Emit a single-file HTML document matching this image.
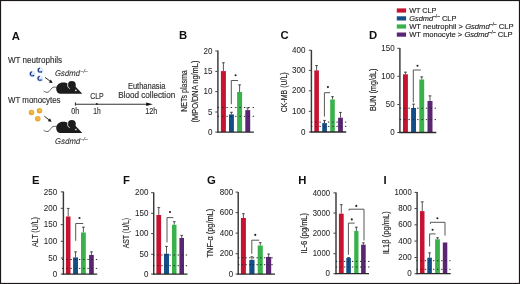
<!DOCTYPE html><html><head><meta charset="utf-8"><style>html,body{margin:0;padding:0;background:#fff}svg{display:block;will-change:transform}text{font-family:"Liberation Sans",sans-serif;stroke:#2a2a2a;stroke-width:0.15px}</style></head><body>
<svg width="520" height="284" viewBox="0 0 520 284">
<defs><radialGradient id="ng" cx="0.65" cy="0.35" r="0.7"><stop offset="0" stop-color="#f4faff"/><stop offset="1" stop-color="#9fcaef"/></radialGradient><radialGradient id="og" cx="0.55" cy="0.45" r="0.6"><stop offset="0" stop-color="#f3c25a"/><stop offset="1" stop-color="#e39a12"/></radialGradient></defs>
<rect x="0" y="0" width="520" height="284" fill="#fff"/>
<text x="11.8" y="39.6" font-size="11.3" text-anchor="start" fill="#111" font-weight="bold" style="stroke:none">A</text>
<text x="179.1" y="39.1" font-size="11.3" text-anchor="start" fill="#111" font-weight="bold" style="stroke:none">B</text>
<text x="280.4" y="39.3" font-size="11.3" text-anchor="start" fill="#111" font-weight="bold" style="stroke:none">C</text>
<text x="369.1" y="39.3" font-size="11.3" text-anchor="start" fill="#111" font-weight="bold" style="stroke:none">D</text>
<text x="32" y="183.9" font-size="11.3" text-anchor="start" fill="#111" font-weight="bold" style="stroke:none">E</text>
<text x="123.1" y="183.9" font-size="11.3" text-anchor="start" fill="#111" font-weight="bold" style="stroke:none">F</text>
<text x="207" y="183.9" font-size="11.3" text-anchor="start" fill="#111" font-weight="bold" style="stroke:none">G</text>
<text x="298.3" y="183.9" font-size="11.3" text-anchor="start" fill="#111" font-weight="bold" style="stroke:none">H</text>
<text x="383.6" y="183.9" font-size="11.3" text-anchor="start" fill="#111" font-weight="bold" style="stroke:none">I</text>
<text x="8" y="63" font-size="8.2" text-anchor="start" fill="#333" textLength="54" lengthAdjust="spacingAndGlyphs">WT neutrophils</text>
<text x="8" y="103" font-size="8.2" text-anchor="start" fill="#333" textLength="52.5" lengthAdjust="spacingAndGlyphs">WT monocytes</text>
<text transform="skewX(-10)" x="67.76" y="75.8" font-size="8.4" fill="#333" style="stroke:#333;stroke-width:0.08px" textLength="32.6" lengthAdjust="spacingAndGlyphs">Gsdmd<tspan dy="-3" font-size="5.6">&#8211;/&#8211;</tspan></text>
<text transform="skewX(-10)" x="79.97" y="143.9" font-size="8.4" fill="#333" style="stroke:#333;stroke-width:0.08px" textLength="32.6" lengthAdjust="spacingAndGlyphs">Gsdmd<tspan dy="-3" font-size="5.6">&#8211;/&#8211;</tspan></text>
<circle cx="32.2" cy="73.9" r="3.05" fill="url(#ng)"/>
<path d="M31.6,71.9 C30.1,72.5 29.900000000000002,74.5 31.1,75.4" stroke="#1a2478" stroke-width="1.1" fill="none" stroke-linecap="round"/>
<circle cx="33.300000000000004" cy="75.5" r="0.85" fill="#1f2c85"/>
<circle cx="32.0" cy="75.80000000000001" r="0.6" fill="#2a3a90"/>
<circle cx="40.1" cy="70.2" r="3.05" fill="url(#ng)"/>
<path d="M39.5,68.2 C38.0,68.8 37.800000000000004,70.8 39.0,71.7" stroke="#1a2478" stroke-width="1.1" fill="none" stroke-linecap="round"/>
<circle cx="41.2" cy="71.8" r="0.85" fill="#1f2c85"/>
<circle cx="39.9" cy="72.10000000000001" r="0.6" fill="#2a3a90"/>
<circle cx="39.9" cy="78.4" r="3.05" fill="url(#ng)"/>
<path d="M39.3,76.4 C37.8,77.0 37.6,79.0 38.8,79.9" stroke="#1a2478" stroke-width="1.1" fill="none" stroke-linecap="round"/>
<circle cx="41.0" cy="80.0" r="0.85" fill="#1f2c85"/>
<circle cx="39.699999999999996" cy="80.30000000000001" r="0.6" fill="#2a3a90"/>
<circle cx="31.5" cy="112.5" r="2.75" fill="url(#og)"/>
<circle cx="39.5" cy="110.7" r="2.75" fill="url(#og)"/>
<circle cx="37.8" cy="118.8" r="2.75" fill="url(#og)"/>
<line x1="45" y1="77.4" x2="49.86281015299855" y2="80.98312327063051" stroke="#111" stroke-width="0.9"/>
<path d="M52.6,83 L48.82471183641131,82.39197098599891 L50.90090846958579,79.57427555526212 Z" fill="#111"/>
<line x1="44.4" y1="116.3" x2="48.898118574868015" y2="119.7360628002464" stroke="#111" stroke-width="0.9"/>
<path d="M51.6,121.8 L47.83579795734778,121.12673706318198 L49.96043919238825,118.34538853731082 Z" fill="#111"/>
<g transform="translate(0,0)"><path d="M60,93.7 C57.6,93.7 56.2,91.4 56.2,88.8 C56.2,85.2 59.3,82.6 63.2,82.6 C65.2,82.6 66.8,83 68,83.8 L75.4,86.6 L82.3,93.8 Z" fill="#1c1c1c"/><circle cx="71.8" cy="84.9" r="4" fill="#1c1c1c"/><path d="M67.9,83.3 C67.2,85.4 67.6,87.6 69.8,88.6" stroke="#fff" stroke-width="0.85" fill="none"/><circle cx="75.9" cy="90.4" r="0.8" fill="#fff"/><path d="M56.6,87.4 C54.6,86.9 53.2,86.9 52,88 C50.6,89.4 49.6,91.6 48,92.2 C46.6,92.7 45,92 43.6,90.9" stroke="#333" stroke-width="0.75" fill="none"/></g>
<g transform="translate(0,39.2)"><path d="M60,93.7 C57.6,93.7 56.2,91.4 56.2,88.8 C56.2,85.2 59.3,82.6 63.2,82.6 C65.2,82.6 66.8,83 68,83.8 L75.4,86.6 L82.3,93.8 Z" fill="#1c1c1c"/><circle cx="71.8" cy="84.9" r="4" fill="#1c1c1c"/><path d="M67.9,83.3 C67.2,85.4 67.6,87.6 69.8,88.6" stroke="#fff" stroke-width="0.85" fill="none"/><circle cx="75.9" cy="90.4" r="0.8" fill="#fff"/><path d="M56.6,87.4 C54.6,86.9 53.2,86.9 52,88 C50.6,89.4 49.6,91.6 48,92.2 C46.6,92.7 45,92 43.6,90.9" stroke="#333" stroke-width="0.75" fill="none"/></g>
<line x1="75.4" y1="104.2" x2="147" y2="104.2" stroke="#333" stroke-width="1.1"/>
<path d="M152.8,104.2 L146.2,102.4 L146.2,106 Z" fill="#111"/>
<line x1="75.4" y1="102.4" x2="75.4" y2="105.6" stroke="#222" stroke-width="1"/>
<circle cx="96.8" cy="104" r="1" fill="#222"/>
<text x="97" y="99.1" font-size="8.2" text-anchor="middle" fill="#333" textLength="13.5" lengthAdjust="spacingAndGlyphs">CLP</text>
<text x="146.7" y="88.6" font-size="8.2" text-anchor="middle" fill="#333" textLength="37.5" lengthAdjust="spacingAndGlyphs">Euthanasia</text>
<text x="146.7" y="97.7" font-size="8.2" text-anchor="middle" fill="#333" textLength="57" lengthAdjust="spacingAndGlyphs">Blood collection</text>
<text x="75.2" y="114.2" font-size="8.2" text-anchor="middle" fill="#333" textLength="7.9" lengthAdjust="spacingAndGlyphs">0h</text>
<text x="97" y="114.2" font-size="8.2" text-anchor="middle" fill="#333" textLength="7.4" lengthAdjust="spacingAndGlyphs">1h</text>
<text x="151.2" y="114.2" font-size="8.2" text-anchor="middle" fill="#333" textLength="12" lengthAdjust="spacingAndGlyphs">12h</text>
<rect x="396.8" y="8.4" width="9.3" height="4.2" fill="#c51331"/>
<rect x="396.8" y="16.3" width="9.3" height="4.2" fill="#134e86"/>
<rect x="396.8" y="24.4" width="9.3" height="4.2" fill="#3ab24b"/>
<rect x="396.8" y="32.5" width="9.3" height="4.2" fill="#5a2674"/>
<text x="409.2" y="12.6" font-size="8" fill="#222" textLength="27.2" lengthAdjust="spacingAndGlyphs">WT CLP</text>
<text x="409.2" y="20.6" font-size="8" fill="#222" textLength="47.2" lengthAdjust="spacingAndGlyphs"><tspan font-style="italic">Gsdmd</tspan><tspan dy="-2.7" font-size="5.2">&#8211;/&#8211;</tspan><tspan dy="2.7"> CLP</tspan></text>
<text x="409.2" y="28.7" font-size="8" fill="#222" textLength="104.3" lengthAdjust="spacingAndGlyphs">WT neutrophil &gt; <tspan font-style="italic">Gsdmd</tspan><tspan dy="-2.7" font-size="5.2">&#8211;/&#8211;</tspan><tspan dy="2.7"> CLP</tspan></text>
<text x="409.2" y="36.7" font-size="8" fill="#222" textLength="103.3" lengthAdjust="spacingAndGlyphs">WT monocyte &gt; <tspan font-style="italic">Gsdmd</tspan><tspan dy="-2.7" font-size="5.2">&#8211;/&#8211;</tspan><tspan dy="2.7"> CLP</tspan></text>
<line x1="217.9" y1="50.5" x2="217.9" y2="132.6" stroke="#383838" stroke-width="1.45"/>
<line x1="215.3" y1="51" x2="217.8" y2="51" stroke="#444" stroke-width="1"/>
<text x="212.4" y="53.65" font-size="8.6" text-anchor="end" fill="#262626" textLength="8.9" lengthAdjust="spacingAndGlyphs" style="stroke-width:0.06px">20</text>
<line x1="215.3" y1="71.4" x2="217.8" y2="71.4" stroke="#444" stroke-width="1"/>
<text x="212.4" y="74.05000000000001" font-size="8.6" text-anchor="end" fill="#262626" textLength="8.9" lengthAdjust="spacingAndGlyphs" style="stroke-width:0.06px">15</text>
<line x1="215.3" y1="91.6" x2="217.8" y2="91.6" stroke="#444" stroke-width="1"/>
<text x="212.4" y="94.25" font-size="8.6" text-anchor="end" fill="#262626" textLength="8.9" lengthAdjust="spacingAndGlyphs" style="stroke-width:0.06px">10</text>
<line x1="215.3" y1="112" x2="217.8" y2="112" stroke="#444" stroke-width="1"/>
<text x="212.4" y="114.65" font-size="8.6" text-anchor="end" fill="#262626" textLength="4.45" lengthAdjust="spacingAndGlyphs" style="stroke-width:0.06px">5</text>
<line x1="215.3" y1="132.1" x2="217.8" y2="132.1" stroke="#444" stroke-width="1"/>
<text x="212.4" y="134.75" font-size="8.6" text-anchor="end" fill="#262626" textLength="4.45" lengthAdjust="spacingAndGlyphs" style="stroke-width:0.06px">0</text>
<line x1="223.4" y1="62.4" x2="223.4" y2="71.1" stroke="#444" stroke-width="0.9"/>
<line x1="222.0" y1="62.8" x2="224.8" y2="62.8" stroke="#444" stroke-width="0.9"/>
<rect x="220.9" y="71.1" width="5.0" height="61.0" fill="#c51331"/>
<line x1="231.45" y1="111.9" x2="231.45" y2="114.4" stroke="#444" stroke-width="0.9"/>
<line x1="230.04999999999998" y1="112.30000000000001" x2="232.85" y2="112.30000000000001" stroke="#444" stroke-width="0.9"/>
<rect x="229" y="114.4" width="4.9" height="17.69999999999999" fill="#134e86"/>
<line x1="239.6" y1="84.5" x2="239.6" y2="92" stroke="#444" stroke-width="0.9"/>
<line x1="238.2" y1="84.9" x2="241.0" y2="84.9" stroke="#444" stroke-width="0.9"/>
<rect x="237.1" y="92" width="5.0" height="40.099999999999994" fill="#3ab24b"/>
<line x1="247.75" y1="107.5" x2="247.75" y2="110.1" stroke="#444" stroke-width="0.9"/>
<line x1="246.35" y1="107.9" x2="249.15" y2="107.9" stroke="#444" stroke-width="0.9"/>
<rect x="245.3" y="110.1" width="4.9" height="22.0" fill="#5a2674"/>
<line x1="217.60000000000002" y1="107.5" x2="254" y2="107.5" stroke="#262626" stroke-width="0.95" stroke-dasharray="1.4,2.98"/>
<line x1="217.60000000000002" y1="116.3" x2="254" y2="116.3" stroke="#262626" stroke-width="0.95" stroke-dasharray="1.4,2.98"/>
<line x1="217.20000000000002" y1="132.1" x2="253.9" y2="132.1" stroke="#2a2a2a" stroke-width="1.3"/>
<path d="M231.3,104.2 L231.3,80.5 L238,80.5" fill="none" stroke="#444" stroke-width="0.9"/>
<circle cx="235.6" cy="75.3" r="1.05" fill="#222"/>
<text transform="translate(186.7,91.05) rotate(-90)" x="0" y="0" font-size="9.2" text-anchor="middle" fill="#1e1e1e" style="stroke:#1e1e1e;stroke-width:0.14px" textLength="41.4" lengthAdjust="spacingAndGlyphs">NETs plasma</text>
<text transform="translate(197.5,91.55) rotate(-90)" x="0" y="0" font-size="9.2" text-anchor="middle" fill="#1e1e1e" style="stroke:#1e1e1e;stroke-width:0.14px" textLength="61.8" lengthAdjust="spacingAndGlyphs">(MPO/DNA ng/mL)</text>
<line x1="311.40000000000003" y1="50" x2="311.40000000000003" y2="132.5" stroke="#383838" stroke-width="1.45"/>
<line x1="308.8" y1="50.2" x2="311.3" y2="50.2" stroke="#444" stroke-width="1"/>
<text x="305.4" y="52.85" font-size="8.6" text-anchor="end" fill="#262626" textLength="13.35" lengthAdjust="spacingAndGlyphs" style="stroke-width:0.06px">400</text>
<line x1="308.8" y1="70.4" x2="311.3" y2="70.4" stroke="#444" stroke-width="1"/>
<text x="305.4" y="73.05000000000001" font-size="8.6" text-anchor="end" fill="#262626" textLength="13.35" lengthAdjust="spacingAndGlyphs" style="stroke-width:0.06px">300</text>
<line x1="308.8" y1="90.8" x2="311.3" y2="90.8" stroke="#444" stroke-width="1"/>
<text x="305.4" y="93.45" font-size="8.6" text-anchor="end" fill="#262626" textLength="13.35" lengthAdjust="spacingAndGlyphs" style="stroke-width:0.06px">200</text>
<line x1="308.8" y1="111.3" x2="311.3" y2="111.3" stroke="#444" stroke-width="1"/>
<text x="305.4" y="113.95" font-size="8.6" text-anchor="end" fill="#262626" textLength="13.35" lengthAdjust="spacingAndGlyphs" style="stroke-width:0.06px">100</text>
<line x1="308.8" y1="132" x2="311.3" y2="132" stroke="#444" stroke-width="1"/>
<text x="305.4" y="134.65" font-size="8.6" text-anchor="end" fill="#262626" textLength="4.45" lengthAdjust="spacingAndGlyphs" style="stroke-width:0.06px">0</text>
<line x1="316.6" y1="65.2" x2="316.6" y2="70.4" stroke="#444" stroke-width="0.9"/>
<line x1="315.20000000000005" y1="65.60000000000001" x2="318.0" y2="65.60000000000001" stroke="#444" stroke-width="0.9"/>
<rect x="314.3" y="70.4" width="4.6" height="61.599999999999994" fill="#c51331"/>
<line x1="324.55" y1="120" x2="324.55" y2="123.1" stroke="#444" stroke-width="0.9"/>
<line x1="323.15000000000003" y1="120.4" x2="325.95" y2="120.4" stroke="#444" stroke-width="0.9"/>
<rect x="322.2" y="123.1" width="4.7" height="8.900000000000006" fill="#134e86"/>
<line x1="332.5" y1="96.3" x2="332.5" y2="99.5" stroke="#444" stroke-width="0.9"/>
<line x1="331.1" y1="96.7" x2="333.9" y2="96.7" stroke="#444" stroke-width="0.9"/>
<rect x="330.2" y="99.5" width="4.6" height="32.5" fill="#3ab24b"/>
<line x1="340.5" y1="112" x2="340.5" y2="117.7" stroke="#444" stroke-width="0.9"/>
<line x1="339.1" y1="112.4" x2="341.9" y2="112.4" stroke="#444" stroke-width="0.9"/>
<rect x="338.1" y="117.7" width="4.8" height="14.299999999999997" fill="#5a2674"/>
<line x1="310.90000000000003" y1="122.1" x2="346.5" y2="122.1" stroke="#262626" stroke-width="0.95" stroke-dasharray="1.4,2.85"/>
<line x1="310.90000000000003" y1="126.39999999999999" x2="346.5" y2="126.39999999999999" stroke="#262626" stroke-width="0.95" stroke-dasharray="1.4,2.85"/>
<line x1="310.7" y1="132" x2="346.2" y2="132" stroke="#2a2a2a" stroke-width="1.3"/>
<path d="M324.4,116.6 L324.4,92.7 L330.1,92.7" fill="none" stroke="#444" stroke-width="0.9"/>
<circle cx="327.9" cy="87.1" r="1.05" fill="#222"/>
<text transform="translate(287.1,92.3) rotate(-90)" x="0" y="0" font-size="9" text-anchor="middle" fill="#1e1e1e" style="stroke:#1e1e1e;stroke-width:0.14px" textLength="40" lengthAdjust="spacingAndGlyphs">CK-MB (U/L)</text>
<line x1="399.90000000000003" y1="48" x2="399.90000000000003" y2="133.0" stroke="#383838" stroke-width="1.45"/>
<line x1="397.3" y1="48.3" x2="399.8" y2="48.3" stroke="#444" stroke-width="1"/>
<text x="394.6" y="50.949999999999996" font-size="8.6" text-anchor="end" fill="#262626" textLength="13.35" lengthAdjust="spacingAndGlyphs" style="stroke-width:0.06px">150</text>
<line x1="397.3" y1="76.3" x2="399.8" y2="76.3" stroke="#444" stroke-width="1"/>
<text x="394.6" y="78.95" font-size="8.6" text-anchor="end" fill="#262626" textLength="13.35" lengthAdjust="spacingAndGlyphs" style="stroke-width:0.06px">100</text>
<line x1="397.3" y1="104.5" x2="399.8" y2="104.5" stroke="#444" stroke-width="1"/>
<text x="394.6" y="107.15" font-size="8.6" text-anchor="end" fill="#262626" textLength="8.9" lengthAdjust="spacingAndGlyphs" style="stroke-width:0.06px">50</text>
<line x1="397.3" y1="132.5" x2="399.8" y2="132.5" stroke="#444" stroke-width="1"/>
<text x="394.6" y="135.15" font-size="8.6" text-anchor="end" fill="#262626" textLength="4.45" lengthAdjust="spacingAndGlyphs" style="stroke-width:0.06px">0</text>
<line x1="405.45" y1="71.8" x2="405.45" y2="74.3" stroke="#444" stroke-width="0.9"/>
<line x1="404.05" y1="72.2" x2="406.84999999999997" y2="72.2" stroke="#444" stroke-width="0.9"/>
<rect x="403" y="74.3" width="4.9" height="58.2" fill="#c51331"/>
<line x1="413.55" y1="103.8" x2="413.55" y2="108" stroke="#444" stroke-width="0.9"/>
<line x1="412.15000000000003" y1="104.2" x2="414.95" y2="104.2" stroke="#444" stroke-width="0.9"/>
<rect x="411.1" y="108" width="4.9" height="24.5" fill="#134e86"/>
<line x1="421.75" y1="76.5" x2="421.75" y2="79.5" stroke="#444" stroke-width="0.9"/>
<line x1="420.35" y1="76.9" x2="423.15" y2="76.9" stroke="#444" stroke-width="0.9"/>
<rect x="419.3" y="79.5" width="4.9" height="53.0" fill="#3ab24b"/>
<line x1="430.0" y1="95.5" x2="430.0" y2="101" stroke="#444" stroke-width="0.9"/>
<line x1="428.6" y1="95.9" x2="431.4" y2="95.9" stroke="#444" stroke-width="0.9"/>
<rect x="427.5" y="101" width="5" height="31.5" fill="#5a2674"/>
<line x1="399.7" y1="108.19999999999999" x2="436.5" y2="108.19999999999999" stroke="#262626" stroke-width="0.95" stroke-dasharray="1.4,2.96"/>
<line x1="399.7" y1="119.6" x2="436.5" y2="119.6" stroke="#262626" stroke-width="0.95" stroke-dasharray="1.4,2.96"/>
<line x1="399.2" y1="132.5" x2="436.3" y2="132.5" stroke="#2a2a2a" stroke-width="1.3"/>
<path d="M413.3,102.3 L413.3,70 L420.8,70" fill="none" stroke="#444" stroke-width="0.9"/>
<circle cx="417.5" cy="65.8" r="1.05" fill="#222"/>
<text transform="translate(376.2,89.75) rotate(-90)" x="0" y="0" font-size="9" text-anchor="middle" fill="#1e1e1e" style="stroke:#1e1e1e;stroke-width:0.14px" textLength="42.5" lengthAdjust="spacingAndGlyphs">BUN (mg/dL)</text>
<line x1="63.4" y1="191.5" x2="63.4" y2="274.6" stroke="#383838" stroke-width="1.45"/>
<line x1="60.8" y1="191.9" x2="63.3" y2="191.9" stroke="#444" stroke-width="1"/>
<text x="57.1" y="194.55" font-size="8.6" text-anchor="end" fill="#262626" textLength="13.35" lengthAdjust="spacingAndGlyphs" style="stroke-width:0.06px">250</text>
<line x1="60.8" y1="208.3" x2="63.3" y2="208.3" stroke="#444" stroke-width="1"/>
<text x="57.1" y="210.95000000000002" font-size="8.6" text-anchor="end" fill="#262626" textLength="13.35" lengthAdjust="spacingAndGlyphs" style="stroke-width:0.06px">200</text>
<line x1="60.8" y1="224.7" x2="63.3" y2="224.7" stroke="#444" stroke-width="1"/>
<text x="57.1" y="227.35" font-size="8.6" text-anchor="end" fill="#262626" textLength="13.35" lengthAdjust="spacingAndGlyphs" style="stroke-width:0.06px">150</text>
<line x1="60.8" y1="241.3" x2="63.3" y2="241.3" stroke="#444" stroke-width="1"/>
<text x="57.1" y="243.95000000000002" font-size="8.6" text-anchor="end" fill="#262626" textLength="13.35" lengthAdjust="spacingAndGlyphs" style="stroke-width:0.06px">100</text>
<line x1="60.8" y1="258" x2="63.3" y2="258" stroke="#444" stroke-width="1"/>
<text x="57.1" y="260.65" font-size="8.6" text-anchor="end" fill="#262626" textLength="8.9" lengthAdjust="spacingAndGlyphs" style="stroke-width:0.06px">50</text>
<line x1="60.8" y1="274.1" x2="63.3" y2="274.1" stroke="#444" stroke-width="1"/>
<text x="57.1" y="276.75" font-size="8.6" text-anchor="end" fill="#262626" textLength="4.45" lengthAdjust="spacingAndGlyphs" style="stroke-width:0.06px">0</text>
<line x1="68.2" y1="208" x2="68.2" y2="216.5" stroke="#444" stroke-width="0.9"/>
<line x1="66.8" y1="208.4" x2="69.60000000000001" y2="208.4" stroke="#444" stroke-width="0.9"/>
<rect x="65.9" y="216.5" width="4.6" height="57.60000000000002" fill="#c51331"/>
<line x1="75.55" y1="251.5" x2="75.55" y2="257.4" stroke="#444" stroke-width="0.9"/>
<line x1="74.14999999999999" y1="251.9" x2="76.95" y2="251.9" stroke="#444" stroke-width="0.9"/>
<rect x="73.1" y="257.4" width="4.9" height="16.700000000000045" fill="#134e86"/>
<line x1="83.4" y1="226.8" x2="83.4" y2="232.5" stroke="#444" stroke-width="0.9"/>
<line x1="82.0" y1="227.20000000000002" x2="84.80000000000001" y2="227.20000000000002" stroke="#444" stroke-width="0.9"/>
<rect x="81" y="232.5" width="4.8" height="41.60000000000002" fill="#3ab24b"/>
<line x1="91.44999999999999" y1="251.5" x2="91.44999999999999" y2="254.9" stroke="#444" stroke-width="0.9"/>
<line x1="90.04999999999998" y1="251.9" x2="92.85" y2="251.9" stroke="#444" stroke-width="0.9"/>
<rect x="89.1" y="254.9" width="4.7" height="19.200000000000017" fill="#5a2674"/>
<line x1="62.0" y1="259.5" x2="97.2" y2="259.5" stroke="#262626" stroke-width="0.95" stroke-dasharray="1.4,2.83"/>
<line x1="62.0" y1="268.40000000000003" x2="97.2" y2="268.40000000000003" stroke="#262626" stroke-width="0.95" stroke-dasharray="1.4,2.83"/>
<line x1="62.699999999999996" y1="274.1" x2="97.2" y2="274.1" stroke="#2a2a2a" stroke-width="1.3"/>
<path d="M75.7,240.8 L75.7,223.5 L83.2,223.5" fill="none" stroke="#444" stroke-width="0.9"/>
<circle cx="79.5" cy="218" r="1.05" fill="#222"/>
<text transform="translate(37.9,232) rotate(-90)" x="0" y="0" font-size="9" text-anchor="middle" fill="#1e1e1e" style="stroke:#1e1e1e;stroke-width:0.14px" textLength="29.8" lengthAdjust="spacingAndGlyphs">ALT (U/L)</text>
<line x1="153.7" y1="192.4" x2="153.7" y2="274.6" stroke="#383838" stroke-width="1.45"/>
<line x1="151.1" y1="192.7" x2="153.6" y2="192.7" stroke="#444" stroke-width="1"/>
<text x="148.4" y="195.35" font-size="8.6" text-anchor="end" fill="#262626" textLength="13.35" lengthAdjust="spacingAndGlyphs" style="stroke-width:0.06px">200</text>
<line x1="151.1" y1="213.3" x2="153.6" y2="213.3" stroke="#444" stroke-width="1"/>
<text x="148.4" y="215.95000000000002" font-size="8.6" text-anchor="end" fill="#262626" textLength="13.35" lengthAdjust="spacingAndGlyphs" style="stroke-width:0.06px">150</text>
<line x1="151.1" y1="233.6" x2="153.6" y2="233.6" stroke="#444" stroke-width="1"/>
<text x="148.4" y="236.25" font-size="8.6" text-anchor="end" fill="#262626" textLength="13.35" lengthAdjust="spacingAndGlyphs" style="stroke-width:0.06px">100</text>
<line x1="151.1" y1="254.3" x2="153.6" y2="254.3" stroke="#444" stroke-width="1"/>
<text x="148.4" y="256.95" font-size="8.6" text-anchor="end" fill="#262626" textLength="8.9" lengthAdjust="spacingAndGlyphs" style="stroke-width:0.06px">50</text>
<line x1="151.1" y1="274.1" x2="153.6" y2="274.1" stroke="#444" stroke-width="1"/>
<text x="148.4" y="276.75" font-size="8.6" text-anchor="end" fill="#262626" textLength="4.45" lengthAdjust="spacingAndGlyphs" style="stroke-width:0.06px">0</text>
<line x1="158.75" y1="207.2" x2="158.75" y2="215" stroke="#444" stroke-width="0.9"/>
<line x1="157.35" y1="207.6" x2="160.15" y2="207.6" stroke="#444" stroke-width="0.9"/>
<rect x="156.4" y="215" width="4.7" height="59.10000000000002" fill="#c51331"/>
<line x1="166.5" y1="246" x2="166.5" y2="253.7" stroke="#444" stroke-width="0.9"/>
<line x1="165.1" y1="246.4" x2="167.9" y2="246.4" stroke="#444" stroke-width="0.9"/>
<rect x="164" y="253.7" width="5" height="20.400000000000034" fill="#134e86"/>
<line x1="174.25" y1="221.3" x2="174.25" y2="224.8" stroke="#444" stroke-width="0.9"/>
<line x1="172.85" y1="221.70000000000002" x2="175.65" y2="221.70000000000002" stroke="#444" stroke-width="0.9"/>
<rect x="172" y="224.8" width="4.5" height="49.30000000000001" fill="#3ab24b"/>
<line x1="181.70000000000002" y1="235" x2="181.70000000000002" y2="238" stroke="#444" stroke-width="0.9"/>
<line x1="180.3" y1="235.4" x2="183.10000000000002" y2="235.4" stroke="#444" stroke-width="0.9"/>
<rect x="179.4" y="238" width="4.6" height="36.10000000000002" fill="#5a2674"/>
<line x1="153.10000000000002" y1="255.0" x2="187.5" y2="255.0" stroke="#262626" stroke-width="0.95" stroke-dasharray="1.4,2.68"/>
<line x1="153.10000000000002" y1="265.70000000000005" x2="187.5" y2="265.70000000000005" stroke="#262626" stroke-width="0.95" stroke-dasharray="1.4,2.68"/>
<line x1="153.0" y1="274.1" x2="187.5" y2="274.1" stroke="#2a2a2a" stroke-width="1.3"/>
<path d="M167,242.4 L167,217.6 L173.3,217.6" fill="none" stroke="#444" stroke-width="0.9"/>
<circle cx="170" cy="212" r="1.05" fill="#222"/>
<text transform="translate(129,233.1) rotate(-90)" x="0" y="0" font-size="9" text-anchor="middle" fill="#1e1e1e" style="stroke:#1e1e1e;stroke-width:0.14px" textLength="30.4" lengthAdjust="spacingAndGlyphs">AST (U/L)</text>
<line x1="238.2" y1="192" x2="238.2" y2="274.6" stroke="#383838" stroke-width="1.45"/>
<line x1="235.6" y1="192.1" x2="238.1" y2="192.1" stroke="#444" stroke-width="1"/>
<text x="233.1" y="194.75" font-size="8.6" text-anchor="end" fill="#262626" textLength="13.35" lengthAdjust="spacingAndGlyphs" style="stroke-width:0.06px">800</text>
<line x1="235.6" y1="212.6" x2="238.1" y2="212.6" stroke="#444" stroke-width="1"/>
<text x="233.1" y="215.25" font-size="8.6" text-anchor="end" fill="#262626" textLength="13.35" lengthAdjust="spacingAndGlyphs" style="stroke-width:0.06px">600</text>
<line x1="235.6" y1="233.1" x2="238.1" y2="233.1" stroke="#444" stroke-width="1"/>
<text x="233.1" y="235.75" font-size="8.6" text-anchor="end" fill="#262626" textLength="13.35" lengthAdjust="spacingAndGlyphs" style="stroke-width:0.06px">400</text>
<line x1="235.6" y1="253.7" x2="238.1" y2="253.7" stroke="#444" stroke-width="1"/>
<text x="233.1" y="256.34999999999997" font-size="8.6" text-anchor="end" fill="#262626" textLength="13.35" lengthAdjust="spacingAndGlyphs" style="stroke-width:0.06px">200</text>
<line x1="235.6" y1="274.1" x2="238.1" y2="274.1" stroke="#444" stroke-width="1"/>
<text x="233.1" y="276.75" font-size="8.6" text-anchor="end" fill="#262626" textLength="4.45" lengthAdjust="spacingAndGlyphs" style="stroke-width:0.06px">0</text>
<line x1="243.4" y1="213.3" x2="243.4" y2="218" stroke="#444" stroke-width="0.9"/>
<line x1="242.0" y1="213.70000000000002" x2="244.8" y2="213.70000000000002" stroke="#444" stroke-width="0.9"/>
<rect x="240.9" y="218" width="5" height="56.10000000000002" fill="#c51331"/>
<line x1="251.9" y1="256.4" x2="251.9" y2="259.9" stroke="#444" stroke-width="0.9"/>
<line x1="250.5" y1="256.79999999999995" x2="253.3" y2="256.79999999999995" stroke="#444" stroke-width="0.9"/>
<rect x="249.3" y="259.9" width="5.2" height="14.200000000000045" fill="#134e86"/>
<line x1="260.25" y1="242.3" x2="260.25" y2="245.5" stroke="#444" stroke-width="0.9"/>
<line x1="258.85" y1="242.70000000000002" x2="261.65" y2="242.70000000000002" stroke="#444" stroke-width="0.9"/>
<rect x="257.7" y="245.5" width="5.1" height="28.600000000000023" fill="#3ab24b"/>
<line x1="268.6" y1="253.7" x2="268.6" y2="256.9" stroke="#444" stroke-width="0.9"/>
<line x1="267.20000000000005" y1="254.1" x2="270.0" y2="254.1" stroke="#444" stroke-width="0.9"/>
<rect x="266" y="256.9" width="5.2" height="17.200000000000045" fill="#5a2674"/>
<line x1="238.0" y1="257.8" x2="275" y2="257.8" stroke="#262626" stroke-width="0.95" stroke-dasharray="1.4,2.30"/>
<line x1="238.0" y1="264.70000000000005" x2="275" y2="264.70000000000005" stroke="#262626" stroke-width="0.95" stroke-dasharray="1.4,2.30"/>
<line x1="237.5" y1="274.1" x2="275" y2="274.1" stroke="#2a2a2a" stroke-width="1.3"/>
<path d="M251.8,253.8 L251.8,240.2 L259.2,240.2" fill="none" stroke="#444" stroke-width="0.9"/>
<circle cx="255.3" cy="234.9" r="1.05" fill="#222"/>
<text transform="translate(213,233.1) rotate(-90)" x="0" y="0" font-size="9" text-anchor="middle" fill="#1e1e1e" style="stroke:#1e1e1e;stroke-width:0.14px" textLength="48.6" lengthAdjust="spacingAndGlyphs">TNF-&#945; (pg/mL)</text>
<line x1="336.0" y1="192.4" x2="336.0" y2="274.2" stroke="#383838" stroke-width="1.45"/>
<line x1="333.4" y1="192.9" x2="335.9" y2="192.9" stroke="#444" stroke-width="1"/>
<text x="330" y="195.55" font-size="8.6" text-anchor="end" fill="#262626" textLength="17.2" lengthAdjust="spacingAndGlyphs" style="stroke-width:0.06px">4000</text>
<line x1="333.4" y1="213" x2="335.9" y2="213" stroke="#444" stroke-width="1"/>
<text x="330" y="215.65" font-size="8.6" text-anchor="end" fill="#262626" textLength="17.2" lengthAdjust="spacingAndGlyphs" style="stroke-width:0.06px">3000</text>
<line x1="333.4" y1="233.2" x2="335.9" y2="233.2" stroke="#444" stroke-width="1"/>
<text x="330" y="235.85" font-size="8.6" text-anchor="end" fill="#262626" textLength="17.2" lengthAdjust="spacingAndGlyphs" style="stroke-width:0.06px">2000</text>
<line x1="333.4" y1="253.7" x2="335.9" y2="253.7" stroke="#444" stroke-width="1"/>
<text x="330" y="256.34999999999997" font-size="8.6" text-anchor="end" fill="#262626" textLength="17.2" lengthAdjust="spacingAndGlyphs" style="stroke-width:0.06px">1000</text>
<line x1="333.4" y1="273.7" x2="335.9" y2="273.7" stroke="#444" stroke-width="1"/>
<text x="330" y="276.34999999999997" font-size="8.6" text-anchor="end" fill="#262626" textLength="4.45" lengthAdjust="spacingAndGlyphs" style="stroke-width:0.06px">0</text>
<line x1="341.29999999999995" y1="204.3" x2="341.29999999999995" y2="213.7" stroke="#444" stroke-width="0.9"/>
<line x1="339.9" y1="204.70000000000002" x2="342.69999999999993" y2="204.70000000000002" stroke="#444" stroke-width="0.9"/>
<rect x="338.9" y="213.7" width="4.8" height="60.0" fill="#c51331"/>
<line x1="348.6" y1="257.2" x2="348.6" y2="257.9" stroke="#444" stroke-width="0.9"/>
<line x1="347.20000000000005" y1="257.59999999999997" x2="350.0" y2="257.59999999999997" stroke="#444" stroke-width="0.9"/>
<rect x="346.3" y="257.9" width="4.6" height="15.800000000000011" fill="#134e86"/>
<line x1="356.34999999999997" y1="226.8" x2="356.34999999999997" y2="231" stroke="#444" stroke-width="0.9"/>
<line x1="354.95" y1="227.20000000000002" x2="357.74999999999994" y2="227.20000000000002" stroke="#444" stroke-width="0.9"/>
<rect x="354.2" y="231" width="4.3" height="42.69999999999999" fill="#3ab24b"/>
<line x1="363.40000000000003" y1="242.5" x2="363.40000000000003" y2="244.7" stroke="#444" stroke-width="0.9"/>
<line x1="362.00000000000006" y1="242.9" x2="364.8" y2="242.9" stroke="#444" stroke-width="0.9"/>
<rect x="361.1" y="244.7" width="4.6" height="29.0" fill="#5a2674"/>
<line x1="335.8" y1="261.40000000000003" x2="369.5" y2="261.40000000000003" stroke="#262626" stroke-width="0.95" stroke-dasharray="1.4,2.63"/>
<line x1="335.8" y1="267.0" x2="369.5" y2="267.0" stroke="#262626" stroke-width="0.95" stroke-dasharray="1.4,2.63"/>
<line x1="335.29999999999995" y1="273.7" x2="369" y2="273.7" stroke="#2a2a2a" stroke-width="1.3"/>
<path d="M348.4,254.8 L348.4,223.1 L354.6,223.1" fill="none" stroke="#444" stroke-width="0.9"/>
<circle cx="351.8" cy="219.4" r="1.05" fill="#222"/>
<path d="M349,210.6 L349,209.2 L364,209.2 L364,240.5" fill="none" stroke="#444" stroke-width="0.9"/>
<circle cx="356.3" cy="205.9" r="1.05" fill="#222"/>
<text transform="translate(307.3,233.3) rotate(-90)" x="0" y="0" font-size="9" text-anchor="middle" fill="#1e1e1e" style="stroke:#1e1e1e;stroke-width:0.14px" textLength="40.6" lengthAdjust="spacingAndGlyphs">IL-6 (pg/mL)</text>
<line x1="417.1" y1="192" x2="417.1" y2="274.2" stroke="#383838" stroke-width="1.45"/>
<line x1="414.5" y1="192.4" x2="417" y2="192.4" stroke="#444" stroke-width="1"/>
<text x="411.7" y="195.05" font-size="8.6" text-anchor="end" fill="#262626" textLength="17.2" lengthAdjust="spacingAndGlyphs" style="stroke-width:0.06px">1000</text>
<line x1="414.5" y1="208.6" x2="417" y2="208.6" stroke="#444" stroke-width="1"/>
<text x="411.7" y="211.25" font-size="8.6" text-anchor="end" fill="#262626" textLength="13.35" lengthAdjust="spacingAndGlyphs" style="stroke-width:0.06px">800</text>
<line x1="414.5" y1="224.8" x2="417" y2="224.8" stroke="#444" stroke-width="1"/>
<text x="411.7" y="227.45000000000002" font-size="8.6" text-anchor="end" fill="#262626" textLength="13.35" lengthAdjust="spacingAndGlyphs" style="stroke-width:0.06px">600</text>
<line x1="414.5" y1="241.1" x2="417" y2="241.1" stroke="#444" stroke-width="1"/>
<text x="411.7" y="243.75" font-size="8.6" text-anchor="end" fill="#262626" textLength="13.35" lengthAdjust="spacingAndGlyphs" style="stroke-width:0.06px">400</text>
<line x1="414.5" y1="257.5" x2="417" y2="257.5" stroke="#444" stroke-width="1"/>
<text x="411.7" y="260.15" font-size="8.6" text-anchor="end" fill="#262626" textLength="13.35" lengthAdjust="spacingAndGlyphs" style="stroke-width:0.06px">200</text>
<line x1="414.5" y1="273.7" x2="417" y2="273.7" stroke="#444" stroke-width="1"/>
<text x="411.7" y="276.34999999999997" font-size="8.6" text-anchor="end" fill="#262626" textLength="4.45" lengthAdjust="spacingAndGlyphs" style="stroke-width:0.06px">0</text>
<line x1="422.25" y1="201.5" x2="422.25" y2="211.1" stroke="#444" stroke-width="0.9"/>
<line x1="420.85" y1="201.9" x2="423.65" y2="201.9" stroke="#444" stroke-width="0.9"/>
<rect x="420" y="211.1" width="4.5" height="62.599999999999994" fill="#c51331"/>
<line x1="429.6" y1="252.5" x2="429.6" y2="257.7" stroke="#444" stroke-width="0.9"/>
<line x1="428.20000000000005" y1="252.9" x2="431.0" y2="252.9" stroke="#444" stroke-width="0.9"/>
<rect x="427.3" y="257.7" width="4.6" height="16.0" fill="#134e86"/>
<line x1="437.5" y1="237.4" x2="437.5" y2="239.3" stroke="#444" stroke-width="0.9"/>
<line x1="436.1" y1="237.8" x2="438.9" y2="237.8" stroke="#444" stroke-width="0.9"/>
<rect x="435.1" y="239.3" width="4.8" height="34.39999999999998" fill="#3ab24b"/>
<rect x="442.8" y="242.5" width="4.5" height="31.19999999999999" fill="#5a2674"/>
<line x1="416.5" y1="260.70000000000005" x2="450.5" y2="260.70000000000005" stroke="#262626" stroke-width="0.95" stroke-dasharray="1.4,2.70"/>
<line x1="416.5" y1="269.3" x2="450.5" y2="269.3" stroke="#262626" stroke-width="0.95" stroke-dasharray="1.4,2.70"/>
<line x1="416.4" y1="273.7" x2="450.7" y2="273.7" stroke="#2a2a2a" stroke-width="1.3"/>
<path d="M429.6,246.5 L429.6,233.9 L435.6,233.9" fill="none" stroke="#444" stroke-width="0.9"/>
<circle cx="432.6" cy="229.7" r="1.05" fill="#222"/>
<path d="M430.4,223.9 L430.4,222.3 L445,222.3 L445,235.6" fill="none" stroke="#444" stroke-width="0.9"/>
<circle cx="437.4" cy="218.2" r="1.05" fill="#222"/>
<text transform="translate(389.3,232.75) rotate(-90)" x="0" y="0" font-size="9" text-anchor="middle" fill="#1e1e1e" style="stroke:#1e1e1e;stroke-width:0.14px" textLength="43.1" lengthAdjust="spacingAndGlyphs">IL1&#946; (pg/mL)</text>
<rect x="0.5" y="0.5" width="519" height="283" fill="none" stroke="#1b1617" stroke-width="1.2"/>
</svg></body></html>
